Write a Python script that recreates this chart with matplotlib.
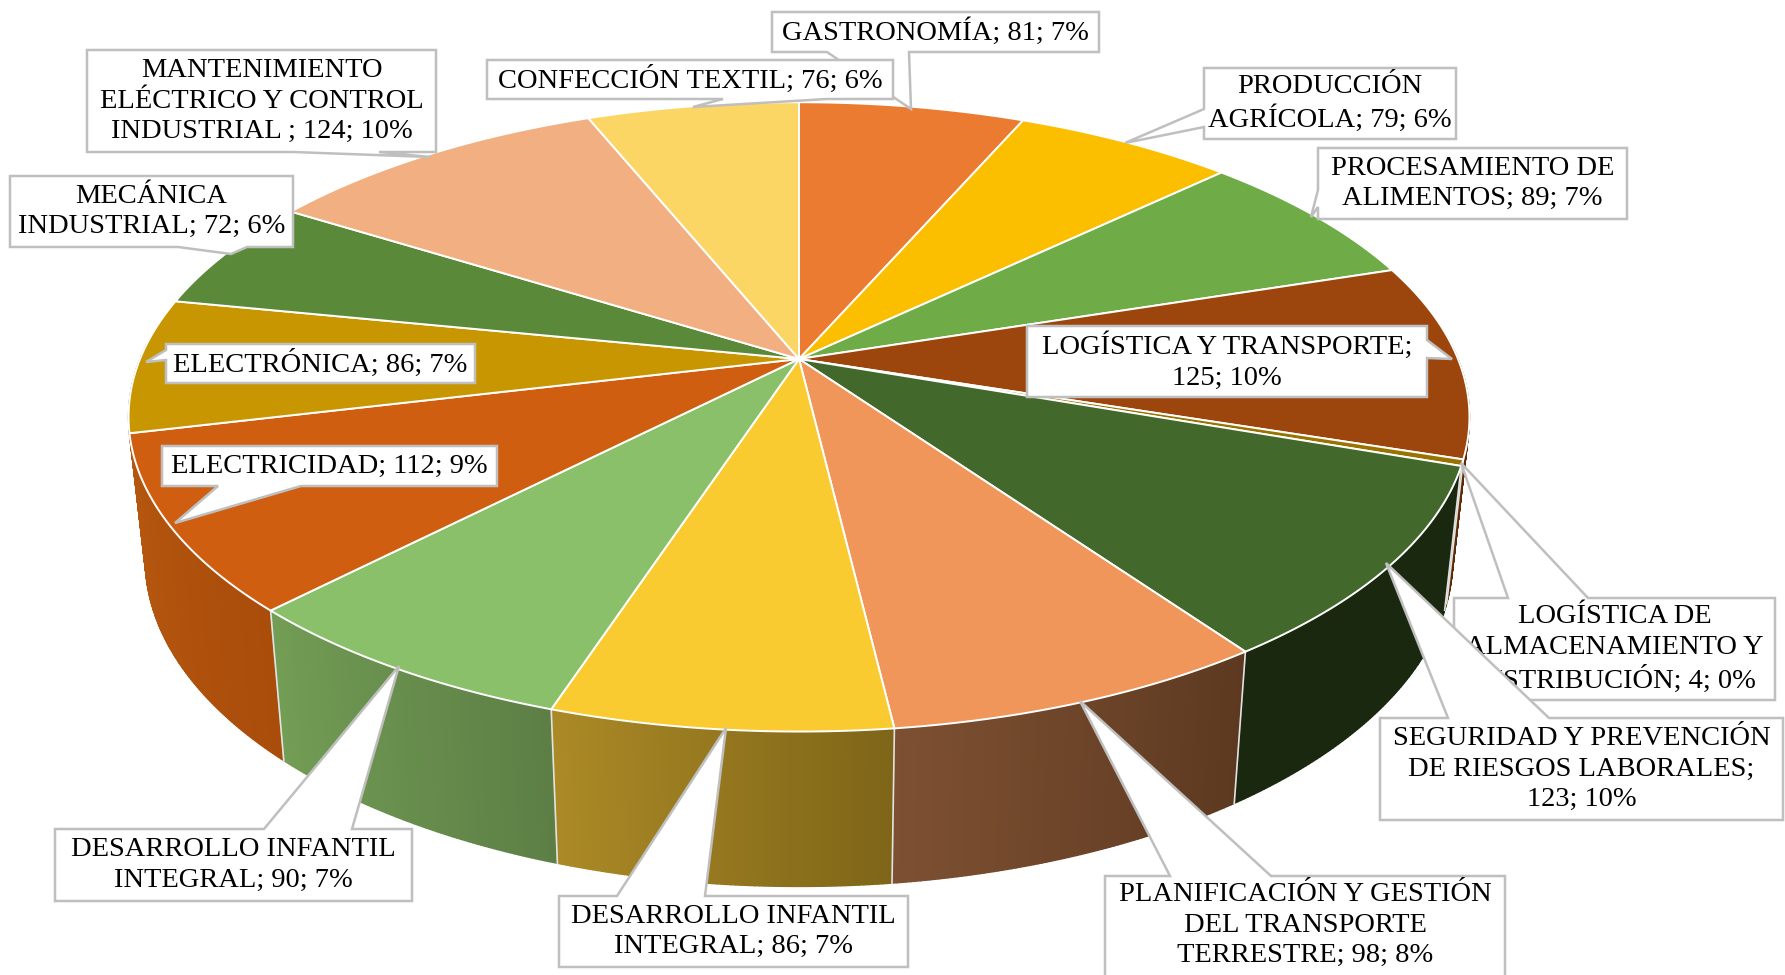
import numpy as np
import matplotlib
matplotlib.use("Agg")
import matplotlib.pyplot as plt
from matplotlib.patches import Polygon
from matplotlib.colors import to_rgb

plt.rcParams['font.family'] = ['Liberation Serif', 'DejaVu Serif']

# datos
valores = [81, 79, 89, 125, 4, 123, 98, 86, 90, 112, 86, 72, 124, 76]
etiquetas = [
    "GASTRONOMÍA; 81; 7%",
    "PRODUCCIÓN\nAGRÍCOLA; 79; 6%",
    "PROCESAMIENTO DE\nALIMENTOS; 89; 7%",
    "LOGÍSTICA Y TRANSPORTE;\n125; 10%",
    "LOGÍSTICA DE\nALMACENAMIENTO Y\nDISTRIBUCIÓN; 4; 0%",
    "SEGURIDAD Y PREVENCIÓN\nDE RIESGOS LABORALES;\n123; 10%",
    "PLANIFICACIÓN Y GESTIÓN\nDEL TRANSPORTE\nTERRESTRE; 98; 8%",
    "DESARROLLO INFANTIL\nINTEGRAL; 86; 7%",
    "DESARROLLO INFANTIL\nINTEGRAL; 90; 7%",
    "ELECTRICIDAD; 112; 9%",
    "ELECTRÓNICA; 86; 7%",
    "MECÁNICA\nINDUSTRIAL; 72; 6%",
    "MANTENIMIENTO\nELÉCTRICO Y CONTROL\nINDUSTRIAL ; 124; 10%",
    "CONFECCIÓN TEXTIL; 76; 6%",
]
colores = ['#EB7B31', '#FBBF00', '#6FAC48', '#9C450C', '#997300', '#43682B', '#F0965A',
           '#FACB30', '#8BC06A', '#D05E10', '#C89600', '#5A8A39', '#F2AF82', '#FBD665']
pared_a = ['#8E4A1D', '#977300', '#43672B', '#5E2A07', '#5C4500', '#1A2810', '#7E5032',
           '#AC8A26', '#739E55', '#B6580F', '#8A6700', '#3C5C26', '#A87A5A', '#AD9446']
pared_b = ['#8E4A1D', '#977300', '#43672B', '#5E2A07', '#5C4500', '#1A2810', '#5C3920',
           '#7E6518', '#5D7F46', '#AA4D0B', '#8A6700', '#3C5C26', '#A87A5A', '#AD9446']

# caja (x0, y0, x1, y1), punta, lado de la base, base
cajas = [
    ((772, 12, 1099, 52), (911, 109), 'b', (827, 909)),
    ((1204, 68, 1456, 139), (1125, 143), 'l', (109, 127)),
    ((1318, 148, 1627, 219), (1311, 217), 'l', (190, 207)),
    ((1027, 326, 1427, 397), (1452, 359), 'r', (340, 358)),
    ((1454, 598, 1775, 700), (1461, 463), 't', (1508, 1588)),
    ((1380, 718, 1783, 820), (1386, 563), 't', (1448, 1549)),
    ((1105, 876, 1505, 990), (1080, 701), 't', (1170, 1271)),
    ((559, 896, 908, 967), (726, 728), 't', (617, 705)),
    ((55, 829, 412, 901), (399, 666), 't', (264, 352)),
    ((162, 446, 497, 486), (175, 523), 'b', (218, 301)),
    ((166, 344, 475, 383), (146, 362), 'l', (350, 360)),
    ((10, 176, 293, 247), (231, 254), 'b', (178, 247)),
    ((87, 50, 436, 152), (430, 157), 'b', (293, 379)),
    ((487, 60, 893, 99), (693, 107), 'b', (723, 827)),
]
centro_texto_y = [None] * 14
centro_texto_y[6] = 925

# geometria del disco en perspectiva
cx, cy = 799, 359
A, B, k = 659, 304, 0.184


def disco(t):
    u, v = np.sin(t), -np.cos(t)
    w = 1 - k * v
    return cx + A * u / w, cy + B * v / w


def fondo(t):
    x, y = disco(t)
    return cx + 0.975 * (x - cx), 499 + 1.04 * (y - cy)


def caja_poly(caja, punta, lado, base):
    x0, y0, x1, y1 = caja
    if lado == 't':
        return [(x0, y0), (base[0], y0), punta, (base[1], y0), (x1, y0), (x1, y1), (x0, y1)]
    if lado == 'r':
        return [(x0, y0), (x1, y0), (x1, base[0]), punta, (x1, base[1]), (x1, y1), (x0, y1)]
    if lado == 'b':
        return [(x0, y0), (x1, y0), (x1, y1), (base[1], y1), punta, (base[0], y1), (x0, y1)]
    return [(x0, y0), (x1, y0), (x1, y1), (x0, y1), (x0, base[1]), punta, (x0, base[0])]


fig = plt.figure(figsize=(17.85, 9.75), dpi=100)
ax = fig.add_axes([0, 0, 1, 1])
ax.set_xlim(0, 1785)
ax.set_ylim(975, 0)
ax.axis('off')

bordes = np.concatenate([[0], np.cumsum(valores)]) / sum(valores) * 2 * np.pi

# paredes, de atras hacia delante
tiras = []
for i in range(len(valores)):
    n = max(int((bordes[i + 1] - bordes[i]) / 0.006), 2)
    ts = np.linspace(bordes[i], bordes[i + 1], n + 1)
    ca, cb = np.array(to_rgb(pared_a[i])), np.array(to_rgb(pared_b[i]))
    for j in range(n):
        if np.cos(ts[j]) > 0.05:
            continue
        col = cb + (ca - cb) * j / n
        tiras.append((-np.cos(ts[j]), ts[j], ts[j + 1], col))
tiras.sort(key=lambda s: s[0])
for _, a, b, col in tiras:
    p = [disco(a), disco(b), fondo(b), fondo(a)]
    ax.add_patch(Polygon(p, closed=True, fc=col, ec=col, lw=1.0, zorder=1))

# separadores de las paredes
for t in bordes:
    if np.cos(t) < -0.25:
        x0, y0 = disco(t)
        x1, y1 = fondo(t)
        ax.plot([x0, x1], [y0, y1], color='#E2E2E2', lw=1.2, zorder=2)

# cara superior
for i in range(len(valores)):
    ts = np.linspace(bordes[i], bordes[i + 1], 80)
    xs, ys = disco(ts)
    p = [(cx, cy)] + list(zip(xs, ys))
    ax.add_patch(Polygon(p, closed=True, fc=colores[i], ec='white', lw=1.4,
                         joinstyle='round', zorder=3))

# etiquetas
for i, (caja, punta, lado, base) in enumerate(cajas):
    z = 5 + i * 0.01
    ax.add_patch(Polygon(caja_poly(caja, punta, lado, base), closed=True, fc='white',
                         ec='#BFBFBF', lw=1.8, joinstyle='miter', zorder=z))
    tx = (caja[0] + caja[2]) / 2
    ty = centro_texto_y[i] if centro_texto_y[i] else (caja[1] + caja[3]) / 2
    ax.text(tx, ty, etiquetas[i], ha='center', va='center', fontsize=20.5,
            linespacing=1.28, color='#000000', zorder=z)

fig.savefig('out.png', dpi=100)
